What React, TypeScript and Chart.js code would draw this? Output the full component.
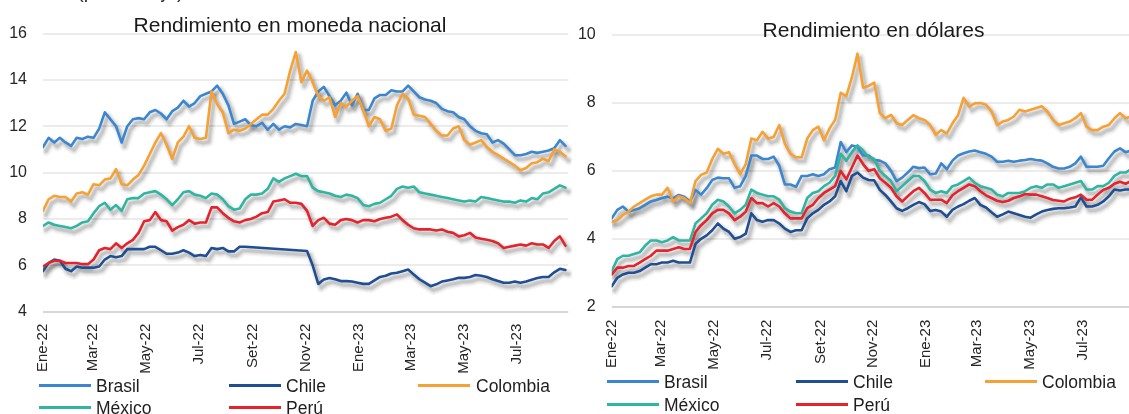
import React, { useEffect, useRef } from "react";
import { Chart, registerables } from "chart.js";

Chart.register(...registerables);

// ---------------- data ----------------
const seriesNames = ["Brasil", "Chile", "Colombia", "México", "Perú"];
const seriesColors = ["#3b87cf", "#1f4e93", "#f7a033", "#31b5a3", "#e4232b"];

const tickLabels = ["Ene-22", "Mar-22", "May-22", "Jul-22", "Set-22", "Nov-22", "Ene-23", "Mar-23", "May-23", "Jul-23"];
// days elapsed since the first observation (3 Jan 2022) at each labelled month start
const tickDays = [0, 57, 118, 179, 241, 302, 363, 422, 483, 544];
// observations are sampled roughly every 6.45 days
const sampleStepDays = 6.45;

const leftTitle = "Rendimiento en moneda nacional";
const rightTitle = "Rendimiento en dólares";
const unitNote = "(porcentaje)";

// Rendimiento en moneda nacional
const brasilLocal = [
  11.1, 11.5, 11.3, 11.5, 11.3, 11.15, 11.5, 11.45, 11.55, 11.5,
  11.9, 12.6, 12.3, 12.0, 11.3, 12.0, 12.3, 12.35, 12.3, 12.6,
  12.7, 12.55, 12.3, 12.65, 12.8, 13.1, 12.85, 13.0, 13.3, 13.4,
  13.5, 13.75, 13.4, 12.9, 12.1, 12.2, 12.3, 12.05, 12.0, 12.15,
  11.85, 12.1, 11.85, 12.0, 11.95, 12.1, 12.05, 12.0, 13.1, 13.5,
  13.7, 13.3, 12.9, 13.1, 13.45, 12.9, 13.4, 12.7, 12.7, 13.2,
  13.35, 13.35, 13.55, 13.5, 13.5, 13.75, 13.5, 13.25, 13.15, 13.1,
  13.0, 12.75, 12.65, 12.6, 12.4, 12.3, 12.0, 11.8, 11.7, 11.65,
  11.3, 11.4, 11.25, 11.0, 10.75, 10.75, 10.8, 10.9, 10.85, 10.9,
  10.95, 11.05, 11.4, 11.15,
];
const chileLocal = [
  5.75, 6.1, 6.25, 6.2, 5.85, 5.75, 5.95, 5.9, 5.9, 5.9,
  5.95, 6.25, 6.4, 6.35, 6.4, 6.7, 6.7, 6.7, 6.7, 6.8,
  6.8, 6.65, 6.5, 6.5, 6.55, 6.65, 6.55, 6.4, 6.45, 6.4,
  6.75, 6.7, 6.75, 6.6, 6.6, 6.8, 6.8, null, null, null,
  null, null, null, null, null, null, null, 6.62, 6.0, 5.2,
  5.39, 5.45, 5.4, 5.32, 5.32, 5.3, 5.25, 5.2, 5.2, 5.35,
  5.5, 5.55, 5.65, 5.68, 5.75, 5.82, 5.6, 5.4, 5.25, 5.1,
  5.18, 5.3, 5.35, 5.4, 5.46, 5.46, 5.5, 5.58, 5.55, 5.5,
  5.4, 5.32, 5.25, 5.25, 5.3, 5.25, 5.3, 5.38, 5.45, 5.5,
  5.5, 5.7, 5.85, 5.8,
];
const colombiaLocal = [
  8.35, 8.85, 9.0, 8.95, 8.95, 8.75, 9.1, 9.15, 9.05, 9.5,
  9.45, 9.7, 9.75, 10.15, 9.5, 9.45, 9.7, 9.9, 10.3, 10.8,
  11.3, 11.7, 11.2, 10.6, 11.3, 11.55, 12.0, 11.5, 11.45, 11.5,
  13.5, 12.95, 12.6, 11.7, 11.85, 11.8, 11.9, 12.1, 12.3, 12.5,
  12.5, 12.75, 13.1, 13.4, 14.4, 15.2, 13.9, 14.4, 13.9, 13.3,
  13.1, 13.25, 12.4, 13.0, 12.85, 13.1, 13.3, 12.7, 12.0, 12.4,
  12.3, 11.8, 11.9, 12.9, 13.4, 13.2, 12.5, 12.45, 12.4, 12.1,
  11.8, 11.6, 11.6, 11.9, 12.0, 11.4, 11.2, 11.3, 11.4, 11.1,
  10.9, 10.75, 10.6, 10.45, 10.3, 10.1, 10.2, 10.4, 10.45, 10.6,
  10.5, 11.0, 10.9, 10.7,
];
const mexicoLocal = [
  7.7, 7.85, 7.75, 7.7, 7.65, 7.6, 7.7, 7.85, 7.9, 8.25,
  8.55, 8.7, 8.4, 8.6, 8.35, 8.85, 8.9, 8.9, 9.1, 9.15,
  9.2, 9.05, 8.85, 8.6, 8.85, 9.15, 9.2, 9.05, 9.0, 8.9,
  9.1, 9.05, 8.85, 8.55, 8.4, 8.45, 8.85, 9.05, 9.05, 9.1,
  9.3, 9.75, 9.6, 9.75, 9.85, 9.95, 9.85, 9.85, 9.35, 9.2,
  9.15, 9.1, 9.0, 8.95, 9.05, 9.0, 8.9, 8.6, 8.55, 8.65,
  8.7, 8.85, 9.0, 9.3, 9.4, 9.35, 9.4, 9.15, 9.1, 9.05,
  9.0, 8.95, 8.9, 8.85, 8.8, 8.75, 8.8, 8.75, 8.95, 8.9,
  8.85, 8.8, 8.75, 8.75, 8.7, 8.8, 8.75, 8.9, 8.85, 9.1,
  9.15, 9.3, 9.45, 9.35,
];
const peruLocal = [
  5.95, 6.1, 6.2, 6.2, 6.1, 6.1, 6.1, 6.05, 6.05, 6.25,
  6.65, 6.75, 6.7, 6.95, 6.75, 6.95, 7.1, 7.4, 7.9, 7.95,
  8.3, 7.95, 7.9, 7.5, 7.65, 7.75, 7.95, 7.8, 7.85, 7.85,
  8.5, 8.5, 8.25, 8.05, 7.9, 7.85, 7.95, 8.0, 8.1, 8.25,
  8.3, 8.75, 8.8, 8.85, 8.7, 8.7, 8.65, 8.35, 7.7, 7.95,
  8.05, 7.8, 7.75, 7.95, 8.0, 7.95, 7.85, 7.95, 7.95, 7.9,
  8.0, 8.05, 8.1, 8.2, 7.95, 7.75, 7.6, 7.55, 7.55, 7.55,
  7.5, 7.55, 7.45, 7.4, 7.25, 7.3, 7.4, 7.2, 7.15, 7.1,
  7.05, 6.95, 6.75, 6.8, 6.85, 6.9, 6.85, 6.95, 6.9, 6.9,
  6.75, 7.05, 7.25, 6.85,
];

// Rendimiento en dólares
const brasilUsd = [
  4.6, 4.85, 4.95, 4.8, 4.85, 4.9, 5.0, 5.1, 5.14, 5.2,
  5.24, 5.19, 5.29, 5.24, 5.09, 5.44, 5.3, 5.49, 5.73, 5.8,
  5.78, 5.78, 5.5, 5.55, 5.85, 6.45, 6.45, 6.35, 6.35, 6.42,
  6.15, 5.6, 5.6, 5.53, 5.85, 5.85, 5.9, 5.85, 5.9, 6.05,
  6.1, 6.85, 6.55, 6.75, 6.7, 6.45, 6.45, 6.32, 6.3, 6.22,
  6.0, 5.7, 5.8, 5.95, 6.12, 6.08, 6.1, 5.9, 5.92, 6.22,
  6.05, 6.3, 6.45, 6.52, 6.57, 6.6, 6.55, 6.5, 6.42, 6.27,
  6.27, 6.3, 6.27, 6.3, 6.32, 6.35, 6.32, 6.3, 6.22, 6.12,
  6.07, 6.07, 6.12, 6.22, 6.42, 6.12, 6.12, 6.12, 6.15, 6.37,
  6.57, 6.66, 6.55, 6.6,
];
const chileUsd = [
  2.6, 2.85, 2.95, 3.0, 3.0, 3.05, 3.15, 3.25, 3.25, 3.3,
  3.3, 3.35, 3.3, 3.3, 3.3, 3.85, 4.0, 4.1, 4.25, 4.45,
  4.3, 4.2, 4.0, 4.05, 4.15, 4.75, 4.55, 4.5, 4.55, 4.55,
  4.45, 4.3, 4.2, 4.25, 4.25, 4.6, 4.75, 4.85, 5.0, 5.1,
  5.25, 5.7, 5.4, 5.85, 5.95, 5.8, 5.73, 5.72, 5.44, 5.29,
  5.1, 4.9, 4.82, 4.9, 5.0, 5.08, 5.02, 4.82, 4.85, 4.8,
  4.65, 4.85, 4.95, 5.02, 5.12, 5.2, 5.0, 4.92, 4.78, 4.65,
  4.72, 4.8, 4.75, 4.7, 4.65, 4.62, 4.72, 4.8, 4.85, 4.88,
  4.9, 4.9, 4.92, 4.95, 5.22, 4.95, 4.95, 5.0, 5.1, 5.25,
  5.45, 5.42, 5.45, 5.45,
];
const colombiaUsd = [
  4.5, 4.55, 4.7, 4.8, 4.95, 5.05, 5.15, 5.25, 5.3, 5.3,
  5.5, 5.1, 5.25, 5.2, 5.05, 5.7, 5.88, 5.95, 6.35, 6.65,
  6.5, 6.55, 6.2, 5.9, 6.2, 6.95, 6.9, 7.15, 6.95, 7.0,
  7.35, 6.8, 6.5, 6.4, 6.4, 6.95, 7.2, 7.3, 6.9, 7.25,
  7.5, 8.3, 8.2, 8.75, 9.45, 8.45, 8.5, 8.6, 7.7, 7.55,
  7.65, 7.4, 7.35, 7.5, 7.64, 7.55, 7.5, 7.35, 7.06, 7.2,
  7.1, 7.4, 7.64, 8.15, 7.89, 7.99, 8.0, 7.95, 7.75, 7.35,
  7.45, 7.5, 7.6, 7.8, 7.75, 7.8, 7.85, 7.9, 7.75, 7.5,
  7.35, 7.4, 7.45, 7.55, 7.7, 7.3, 7.2, 7.2, 7.3, 7.35,
  7.55, 7.7, 7.55, 7.6,
];
const mexicoUsd = [
  3.05, 3.4, 3.5, 3.5, 3.55, 3.6, 3.8, 3.95, 3.95, 3.9,
  3.95, 4.05, 3.95, 3.95, 3.95, 4.45, 4.6, 4.75, 5.0, 5.15,
  5.1, 4.95, 4.75, 4.85, 5.0, 5.45, 5.35, 5.3, 5.25, 5.25,
  5.15, 4.9, 4.8, 4.75, 4.75, 5.2, 5.35, 5.4, 5.55, 5.65,
  5.85, 6.5, 6.3, 6.55, 6.75, 6.6, 6.4, 6.35, 6.0, 5.85,
  5.7, 5.4, 5.55, 5.7, 5.85, 5.85, 5.7, 5.45, 5.35, 5.4,
  5.35, 5.55, 5.6, 5.7, 5.8, 5.65, 5.55, 5.5, 5.45, 5.3,
  5.25, 5.35, 5.35, 5.35, 5.4, 5.5, 5.55, 5.5, 5.6, 5.6,
  5.5, 5.55, 5.6, 5.65, 5.7, 5.45, 5.45, 5.55, 5.55, 5.65,
  5.85, 5.95, 5.95, 6.05,
];
const peruUsd = [
  2.95, 3.15, 3.15, 3.2, 3.2, 3.3, 3.4, 3.5, 3.65, 3.65,
  3.65, 3.7, 3.75, 3.7, 3.7, 4.2, 4.4, 4.55, 4.75, 4.85,
  4.85, 4.75, 4.55, 4.65, 4.8, 5.2, 5.05, 5.05, 4.95, 5.05,
  4.95, 4.75, 4.6, 4.6, 4.6, 4.9, 5.0, 5.2, 5.35, 5.45,
  5.55, 6.0, 5.75, 6.1, 6.45, 6.2, 6.0, 6.05, 5.78, 5.65,
  5.5, 5.25, 5.1, 5.25, 5.4, 5.5, 5.35, 5.15, 5.15, 5.15,
  5.05, 5.28, 5.4, 5.5, 5.6, 5.55, 5.4, 5.28, 5.2, 5.12,
  5.08, 5.12, 5.2, 5.25, 5.32, 5.3, 5.3, 5.25, 5.2, 5.14,
  5.12, 5.1, 5.18, 5.22, 5.3, 5.15, 5.15, 5.3, 5.44, 5.5,
  5.62, 5.68, 5.62, 5.7,
];

const leftSeries = [brasilLocal, chileLocal, colombiaLocal, mexicoLocal, peruLocal];
const rightSeries = [brasilUsd, chileUsd, colombiaUsd, mexicoUsd, peruUsd];

// ---------------- styling ----------------
const FONT = "'Liberation Sans', Arial, Helvetica, sans-serif";
const TEXT = "#262626";

// soft drop shadow under every line, drawn from the points the library has placed
const shadowLayers = [
  { w: 10, a: 0.035 },
  { w: 7.5, a: 0.05 },
  { w: 5, a: 0.07 },
  { w: 3, a: 0.09 },
];
const shadowPlugin = {
  id: "lineShadow",
  beforeDatasetsDraw(chart: any) {
    const c = chart.ctx as CanvasRenderingContext2D;
    const area = chart.chartArea;
    c.save();
    c.beginPath();
    c.rect(area.left, area.top - 4, area.right - area.left + 8, area.bottom - area.top + 10);
    c.clip();
    c.lineJoin = "round";
    c.lineCap = "round";
    const metas = chart.getSortedVisibleDatasetMetas();
    for (let m = metas.length - 1; m >= 0; m--) {
      const pts = metas[m].data;
      for (const L of shadowLayers) {
        c.strokeStyle = `rgba(0,0,0,${L.a})`;
        c.lineWidth = L.w;
        c.beginPath();
        let started = false;
        for (const p of pts) {
          if (p.skip) continue;
          const x = p.x + 3;
          const y = p.y + 4;
          if (!started) {
            c.moveTo(x, y);
            started = true;
          } else {
            c.lineTo(x, y);
          }
        }
        c.stroke();
      }
    }
    c.restore();
  },
};

type PanelCfg = {
  series: (number | null)[][];
  yMin: number;
  yMax: number;
  areaTop: number;
  xAxisHeight: number;
  yAxisWidth: number;
  padRight: number;
  xMax: number;
  xPad: number;
};

const leftCfg: PanelCfg = {
  series: leftSeries,
  yMin: 4,
  yMax: 16,
  areaTop: 33.5,
  xAxisHeight: 68.3,
  yAxisWidth: 43,
  padRight: 3.8,
  xMax: 603,
  xPad: 12,
};

const rightCfg: PanelCfg = {
  series: rightSeries,
  yMin: 2,
  yMax: 10,
  areaTop: 35,
  xAxisHeight: 73.3,
  yAxisWidth: 41.7,
  padRight: 8.1,
  xMax: 603,
  xPad: 13,
};

function makeChart(canvas: HTMLCanvasElement, cfg: PanelCfg) {
  const n = cfg.series.length;
  const datasets = cfg.series.map((vals, k) => ({
    label: seriesNames[k],
    data: vals.map((v, i) => ({ x: i * sampleStepDays, y: v })),
    borderColor: seriesColors[k],
    backgroundColor: seriesColors[k],
    borderWidth: 2.6,
    pointRadius: 0,
    tension: 0,
    spanGaps: true,
    borderJoinStyle: "round" as const,
    borderCapStyle: "round" as const,
    order: n - 1 - k,
  }));
  return new Chart(canvas, {
    type: "line",
    data: { datasets },
    plugins: [shadowPlugin],
    options: {
      responsive: false,
      maintainAspectRatio: false,
      animation: false,
      devicePixelRatio: 1,
      layout: { padding: { top: cfg.areaTop, right: cfg.padRight, left: 0, bottom: 0 } },
      plugins: {
        legend: { display: false },
        tooltip: { enabled: false },
        title: { display: false },
      },
      scales: {
        x: {
          type: "linear",
          min: 0,
          max: cfg.xMax,
          grid: { display: false, drawTicks: false },
          border: { display: false },
          afterBuildTicks: (axis: any) => {
            axis.ticks = tickDays.map((d) => ({ value: d }));
          },
          ticks: {
            autoSkip: false,
            minRotation: 90,
            maxRotation: 90,
            padding: cfg.xPad,
            color: TEXT,
            font: { family: FONT, size: 15 },
            callback: (_v: any, i: number) => tickLabels[i],
          },
          afterFit: (axis: any) => {
            axis.height = cfg.xAxisHeight;
          },
        },
        y: {
          min: cfg.yMin,
          max: cfg.yMax,
          ticks: {
            stepSize: 2,
            padding: 16,
            color: TEXT,
            font: { family: FONT, size: 16 },
          },
          grid: {
            drawTicks: false,
            lineWidth: 2,
            color: (c: any) => (c.tick && c.tick.value === cfg.yMin ? "#d6d6d6" : "#ececec"),
          },
          border: { display: false },
          afterFit: (axis: any) => {
            axis.width = cfg.yAxisWidth;
          },
        },
      },
    } as any,
  });
}

type LegendLayout = { cols: { lineX: number; textX: number }[]; rows: number[] };

const leftLegend: LegendLayout = {
  cols: [
    { lineX: 39, textX: 96 },
    { lineX: 229, textX: 286 },
    { lineX: 418, textX: 476 },
  ],
  rows: [385, 407.5],
};
const rightLegend: LegendLayout = {
  cols: [
    { lineX: 607, textX: 664 },
    { lineX: 796, textX: 853 },
    { lineX: 985, textX: 1042 },
  ],
  rows: [381.7, 404],
};

function Legend({ layout }: { layout: LegendLayout }) {
  return (
    <>
      {seriesNames.map((name, k) => {
        const col = layout.cols[k % 3];
        const rowY = layout.rows[Math.floor(k / 3)];
        return (
          <React.Fragment key={name}>
            <div
              style={{
                position: "absolute",
                left: col.lineX,
                top: rowY - 1.5,
                width: 52,
                height: 3,
                background: seriesColors[k],
              }}
            />
            <div
              style={{
                position: "absolute",
                left: col.textX,
                top: rowY - 8.3,
                fontSize: 17.5,
                lineHeight: "18px",
                color: "#1e1e1e",
                whiteSpace: "nowrap",
              }}
            >
              {name}
            </div>
          </React.Fragment>
        );
      })}
    </>
  );
}

export default function App() {
  const leftRef = useRef<HTMLCanvasElement>(null);
  const rightRef = useRef<HTMLCanvasElement>(null);

  useEffect(() => {
    const a = makeChart(leftRef.current as HTMLCanvasElement, leftCfg);
    const b = makeChart(rightRef.current as HTMLCanvasElement, rightCfg);
    return () => {
      a.destroy();
      b.destroy();
    };
  }, []);

  return (
    <div
      style={{
        position: "fixed",
        left: 0,
        top: 0,
        width: 1129,
        height: 414,
        overflow: "hidden",
        background: "#ffffff",
        fontFamily: FONT,
      }}
    >
      <canvas
        ref={leftRef}
        width={572}
        height={380}
        style={{ position: "absolute", left: 0, top: 0, width: 572, height: 380 }}
      />
      <canvas
        ref={rightRef}
        width={572}
        height={380}
        style={{ position: "absolute", left: 570, top: 0, width: 572, height: 380 }}
      />
      <div
        style={{
          position: "absolute",
          left: 77,
          top: -19.5,
          fontSize: 20,
          lineHeight: "20px",
          color: "#333",
          whiteSpace: "nowrap",
        }}
      >
        {unitNote}
      </div>
      <div
        style={{
          position: "absolute",
          left: 90,
          width: 400,
          top: 13.5,
          textAlign: "center",
          fontSize: 21,
          lineHeight: "21px",
          color: "#1a1a1a",
          whiteSpace: "nowrap",
        }}
      >
        {leftTitle}
      </div>
      <div
        style={{
          position: "absolute",
          left: 673.5,
          width: 400,
          top: 19.2,
          textAlign: "center",
          fontSize: 21,
          lineHeight: "21px",
          color: "#1a1a1a",
          whiteSpace: "nowrap",
        }}
      >
        {rightTitle}
      </div>
      <Legend layout={leftLegend} />
      <Legend layout={rightLegend} />
    </div>
  );
}
